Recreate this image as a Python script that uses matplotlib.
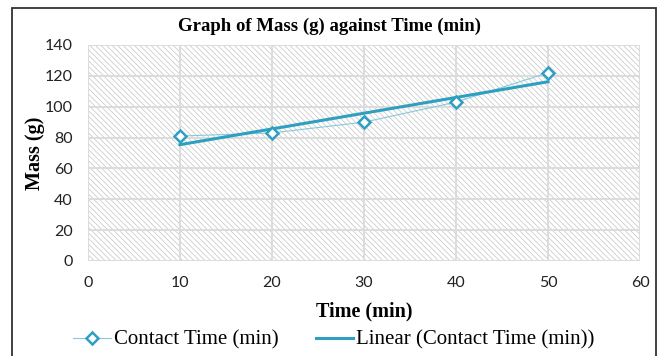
import numpy as np
import matplotlib
matplotlib.use('Agg')
import matplotlib.pyplot as plt
from matplotlib.patches import Rectangle
from matplotlib.lines import Line2D

# data
time_min = [10, 20, 30, 40, 50]
mass_g = [81, 83, 90, 103, 122]
x_ticks = [0, 10, 20, 30, 40, 50, 60]
y_ticks = [0, 20, 40, 60, 80, 100, 120, 140]

teal = '#2f9fc0'
light_teal = '#86c9dc'
grid_col = '#dcdcdc'
serif = 'Liberation Serif'
sans = 'Lato'

plt.rcParams['hatch.linewidth'] = 0.5

fig = plt.figure(figsize=(6.59, 3.56), dpi=100)
ax = fig.add_axes([88/659, 1-261/356, (640-88)/659, (261-45)/356])

# hatched plot background
ax.patch.set_facecolor('white')
ax.patch.set_edgecolor('#c4c4c4')
ax.patch.set_hatch('\\\\\\\\\\\\')
ax.patch.set_linewidth(0)

ax.set_xlim(0, 60)
ax.set_ylim(0, 140)
ax.set_xticks(x_ticks)
ax.set_yticks(y_ticks)
ax.grid(True, color=grid_col, linewidth=1.4)
ax.set_axisbelow(True)
ax.tick_params(length=0, labelsize=11.5, pad=11)
for lab in ax.get_xticklabels() + ax.get_yticklabels():
    lab.set_fontfamily(sans)
    lab.set_color('#222222')
for s in ax.spines.values():
    s.set_visible(False)

# series + linear trend line
ax.plot(time_min, mass_g, color=light_teal, linewidth=0.8, zorder=3)
ax.plot(time_min, mass_g, linestyle='none', marker='D', markersize=6,
        markerfacecolor='white', markeredgecolor=teal, markeredgewidth=1.8, zorder=4)
slope, icpt = np.polyfit(time_min, mass_g, 1)
xs = np.array([time_min[0], time_min[-1]])
ax.plot(xs, slope*xs + icpt, color=teal, linewidth=2.2, zorder=3)

ax.set_xlabel('Time (min)', fontfamily=serif, fontweight='bold', fontsize=14.5, labelpad=8)
ax.set_ylabel('Mass (g)', fontfamily=serif, fontweight='bold', fontsize=14.5, labelpad=0)
fig.text(0.5, 1-26/356, 'Graph of Mass (g) against Time (min)', fontfamily=serif,
         fontweight='bold', fontsize=13.5, ha='center', va='center')

# legend
h1 = Line2D([], [], color=light_teal, linewidth=0.8, marker='D', markersize=6,
            markerfacecolor='white', markeredgecolor=teal, markeredgewidth=1.8)
h2 = Line2D([], [], color=teal, linewidth=2.2)
fig.legend([h1, h2], ['Contact Time (min)', 'Linear (Contact Time (min))'],
           loc='center', bbox_to_anchor=(334/659, 1-340/356), ncol=2, frameon=False,
           prop={'family': serif, 'size': 15}, handlelength=1.8, handletextpad=0.15,
           columnspacing=1.8)

# outer frame
fig.patches.append(Rectangle((12/659, -0.05), 644/659, 1.05-8/356, transform=fig.transFigure,
                             fill=False, edgecolor='#333333', linewidth=1.3))

fig.savefig('out.png', dpi=100)
